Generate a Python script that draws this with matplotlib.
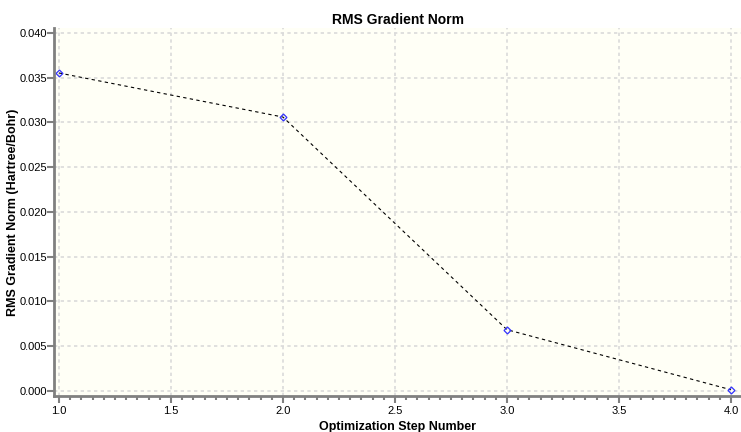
import matplotlib
matplotlib.use("Agg")
import matplotlib.pyplot as plt
from matplotlib.ticker import MultipleLocator, FormatStrFormatter

plt.rcParams['font.family'] = ['Liberation Sans', 'DejaVu Sans']

# data
steps = [1, 2, 3, 4]
rms_grad = [0.03553, 0.0306, 0.00682, 0.0001]

fig = plt.figure(figsize=(7.41, 4.32), dpi=100)
ax = fig.add_axes([54/741, 1 - 396/432, 687/741, 368/432])
ax.set_facecolor('#fffff6')

ax.plot(steps, rms_grad, linestyle=(0, (3, 3)), color='black', linewidth=0.8,
        marker='D', markersize=3.5, markerfacecolor='none',
        markeredgecolor='#3333ff', markeredgewidth=0.9)

ax.set_xlim(0.978, 4.045)
ax.set_ylim(-0.0006, 0.04056)

ax.xaxis.set_major_locator(MultipleLocator(0.5))
ax.xaxis.set_minor_locator(MultipleLocator(0.05))
ax.yaxis.set_major_locator(MultipleLocator(0.005))
ax.xaxis.set_major_formatter(FormatStrFormatter('%.1f'))
ax.yaxis.set_major_formatter(FormatStrFormatter('%.3f'))

ax.grid(True, which='major', color='#dadada', linestyle=(0, (2, 2)), linewidth=1.2)

for s in ['top', 'right']:
    ax.spines[s].set_visible(False)
for s in ['left', 'bottom']:
    ax.spines[s].set_color('#808080')
    ax.spines[s].set_linewidth(2)

ax.tick_params(axis='both', which='major', colors='#808080', labelcolor='black',
               labelsize=8, length=5, width=1.5)
ax.tick_params(axis='y', which='major', pad=0)
ax.tick_params(axis='x', which='major', pad=2)
ax.tick_params(axis='x', which='minor', colors='#808080', length=3, width=1.5)

ax.set_title('RMS Gradient Norm', fontsize=10, fontweight='bold', pad=3)
ax.set_xlabel('Optimization Step Number', fontsize=9, fontweight='bold', labelpad=4)
ax.set_ylabel('RMS Gradient Norm (Hartree/Bohr)', fontsize=9, fontweight='bold')
ax.yaxis.set_label_coords(-0.0515, 0.5)

fig.savefig('out.png', dpi=100)
